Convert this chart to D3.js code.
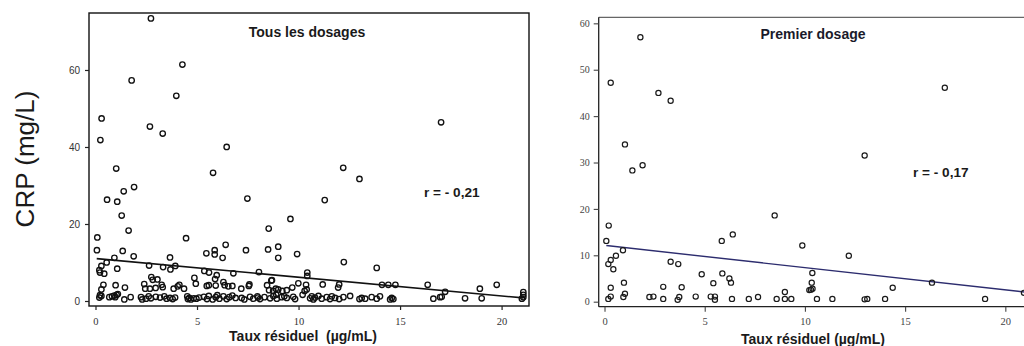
<!DOCTYPE html>
<html>
<head>
<meta charset="utf-8">
<script src="https://cdn.jsdelivr.net/npm/d3@7/dist/d3.min.js"></script>
<style>
  html, body { margin: 0; padding: 0; background: #fff; }
  svg { display: block; }
  text { white-space: pre; }
</style>
</head>
<body>
<svg id="chart" width="1024" height="346"></svg>
<script>
// Residual level (µg/mL) vs CRP (mg/L) — every measurement
const allDosages = [
  [2.73,73.4],[4.28,61.4],[1.78,57.3],[3.98,53.3],[0.3,47.4],[2.68,45.3],[3.31,43.5],[0.24,41.8],
  [6.46,40.0],[17.02,46.4],[12.2,34.6],[1.02,34.4],[5.79,33.3],[13.0,31.7],[1.9,29.6],[1.39,28.5],
  [7.48,26.6],[0.57,26.3],[1.07,25.8],[11.29,26.2],[1.29,22.2],[9.6,21.3],[8.53,18.8],[1.63,18.3],
  [0.09,16.5],[4.46,16.3],[9.0,14.1],[6.41,14.6],[8.5,13.4],[7.41,13.2],[0.07,13.2],[1.34,13.0],
  [5.87,13.2],[5.46,12.4],[5.87,12.1],[9.93,12.2],[1.88,11.6],[3.67,11.3],[6.26,11.2],[9.0,11.2],
  [0.93,11.2],[12.23,10.1],[0.55,10.0],[2.64,9.2],[0.29,9.1],[3.93,9.1],[3.33,8.8],[13.85,8.6],
  [1.07,8.4],[3.69,8.2],[0.19,8.0],[5.36,7.8],[8.05,7.5],[0.22,7.4],[5.59,7.4],[10.43,7.4],
  [6.79,7.2],[0.43,7.1],[5.97,6.7],[10.43,6.5],[2.75,6.2],[4.87,6.0],[3.05,5.6],[2.82,5.5],
  [5.89,5.7],[8.66,5.3],[8.69,5.4],[6.3,4.9],[4.94,4.5],[2.4,4.4],[0.39,4.2],[0.99,4.1],
  [3.26,4.2],[4.13,4.2],[5.58,4.1],[6.36,4.1],[7.58,4.3],[8.45,4.1],[9.99,4.6],[10.37,4.2],
  [11.19,4.3],[12.0,4.3],[14.11,4.2],[14.42,4.2],[14.77,4.2],[16.36,4.2],[19.76,4.2],[5.48,3.9],
  [5.92,4.0],[6.54,3.8],[6.74,3.9],[7.55,3.9],[4.05,3.8],[3.31,3.6],[1.45,3.5],[2.96,3.4],
  [9.69,3.5],[11.95,3.5],[0.29,3.0],[2.45,3.2],[2.68,3.2],[3.85,3.2],[4.36,3.2],[7.18,3.2],
  [8.88,3.2],[18.93,3.2],[17.22,2.4],[8.55,2.8],[8.75,2.6],[9.0,3.0],[9.2,2.6],[9.42,2.8],
  [10.3,2.6],[10.4,3.0],[21.07,2.3],[21.07,1.6],[21.07,1.0],[21.0,0.6],[17.05,1.1],
  [0.19,0.9],[0.29,1.3],[0.68,1.0],[0.81,1.2],[0.93,1.4],[1.04,1.6],[1.42,0.4],[1.73,1.0],
  [2.24,1.0],[2.49,0.6],[2.62,1.2],[2.73,0.7],[2.97,1.1],[3.18,0.9],[3.39,1.2],[3.67,0.8],
  [3.8,0.5],[3.92,0.9],[4.52,1.2],[4.62,0.8],[4.7,0.4],[4.84,0.7],[4.97,0.6],[5.34,1.1],
  [5.49,0.5],[5.58,1.3],[5.77,0.4],[5.92,1.0],[6.1,0.6],[6.3,1.2],[6.46,0.5],[6.59,1.0],
  [6.74,1.4],[7.2,0.8],[7.33,0.4],[7.61,1.1],[7.77,0.6],[7.97,1.2],[8.1,0.5],[8.32,1.0],
  [8.6,0.7],[8.76,1.3],[8.93,0.6],[9.17,1.0],[9.42,0.8],[9.74,1.1],[9.83,0.5],[10.57,0.7],
  [10.65,1.2],[10.73,0.4],[10.81,0.9],[10.98,1.3],[11.14,0.6],[11.39,1.0],[11.55,0.5],[11.64,1.2],
  [11.8,0.8],[12.21,1.0],[12.54,1.3],[13.0,0.5],[13.11,0.8],[13.28,0.6],[13.6,1.0],[13.85,0.6],
  [14.01,1.2],[14.51,0.4],[14.59,0.8],[14.67,0.5],[16.64,0.6],[16.97,1.0],[18.2,0.7],[19.02,0.7],
  [0.22,1.5],[0.97,1.0],[1.1,1.8],[2.3,0.4],[3.5,0.6],[4.55,0.5],[5.1,0.9],[6.0,1.5],
  [6.9,0.8],[8.0,0.9],[8.9,1.6],[9.3,1.2],[10.2,1.6],[12.0,0.5]
];

// Residual level vs CRP — first measurement only
const premierDosage = [
  [1.79,57.0],[0.31,47.2],[2.69,45.0],[3.3,43.3],[16.98,46.1],[1.02,33.9],[12.98,31.5],[1.9,29.4],
  [1.39,28.3],[8.49,18.6],[0.21,16.4],[6.4,14.5],[0.09,13.1],[5.85,13.1],[9.87,12.1],[0.92,11.1],
  [0.57,9.9],[12.19,9.9],[0.31,9.0],[3.3,8.6],[0.19,8.1],[3.68,8.1],[0.44,7.0],[10.37,6.2],
  [5.88,6.1],[4.85,5.9],[6.23,5.0],[0.97,4.1],[5.43,4.0],[6.31,4.1],[10.34,4.1],[16.34,4.1],
  [2.93,3.2],[0.31,3.0],[3.85,3.1],[14.38,3.0],[10.22,2.5],[10.3,2.6],[10.38,2.8],[9.0,2.1],
  [20.93,1.9],[1.02,1.7],[0.94,1.0],[0.19,0.6],[0.31,1.1],[2.24,1.0],[2.44,1.1],[2.93,0.6],
  [3.65,0.4],[3.73,1.0],[4.55,1.1],[5.3,1.1],[5.51,1.1],[5.51,0.4],[6.36,0.6],[7.2,0.6],
  [7.66,1.0],[8.59,0.6],[9.0,0.6],[9.32,0.6],[10.6,0.6],[11.37,0.6],[12.98,0.5],[13.11,0.6],
  [14.0,0.6],[18.99,0.6]
];

// Least-squares fit lines (end points)
const trendAll = [[0.06, 11.0], [21.07, 0.8]];
const trendPremier = [[0.09, 12.1], [20.93, 2.1]];

// Tick values and labels
const xTicks = [0, 5, 10, 15, 20];
const yTicksAll = [0, 20, 40, 60];
const yTicksPremier = [0, 10, 20, 30, 40, 50, 60];
const titles = ["Tous les dosages", "Premier dosage"];
const rLabels = ["r = - 0,21", "r = - 0,17"];
const xTitles = ["Taux résiduel  (µg/mL)", "Taux résiduel (µg/mL)"];
const yTitle = "CRP (mg/L)";

const svg = d3.select("#chart");
const SANS = "'Liberation Sans', Arial, sans-serif";
const SERIF = "'Liberation Serif', 'Times New Roman', serif";

// ---------- Left panel : all measurements ----------
const xL = d3.scaleLinear().domain([-0.32, 21.35]).range([89, 529]);
const yL = d3.scaleLinear().domain([-1.3, 74.8]).range([306, 13]);

const gL = svg.append("g");

// frame
gL.append("rect")
  .attr("x", xL.range()[0]).attr("y", yL.range()[1])
  .attr("width", xL.range()[1] - xL.range()[0])
  .attr("height", yL.range()[0] - yL.range()[1])
  .attr("fill", "none").attr("stroke", "#111").attr("stroke-width", 1.4);

const axL = gL.append("g")
  .attr("transform", `translate(${xL.range()[0]},0)`)
  .call(d3.axisLeft(yL).tickValues(yTicksAll).tickSize(4).tickSizeOuter(0).tickPadding(5));
axL.select(".domain").remove();
axL.selectAll("line").attr("stroke", "#222").attr("stroke-width", 1.2);
axL.selectAll("text").attr("font-family", SANS).attr("font-size", 10).attr("fill", "#333");

const axLx = gL.append("g")
  .attr("transform", `translate(0,${yL.range()[0]})`)
  .call(d3.axisBottom(xL).tickValues(xTicks).tickSize(4).tickSizeOuter(0));
axLx.select(".domain").remove();
axLx.selectAll("line").attr("stroke", "#222").attr("stroke-width", 1.2);
axLx.selectAll("text").attr("font-family", SERIF).attr("font-size", 10.5)
  .attr("fill", "#333").attr("dy", null).attr("y", 19);

gL.append("line")
  .attr("x1", xL(trendAll[0][0])).attr("y1", yL(trendAll[0][1]))
  .attr("x2", xL(trendAll[1][0])).attr("y2", yL(trendAll[1][1]))
  .attr("stroke", "#111").attr("stroke-width", 1.6);

gL.append("g").selectAll("circle").data(allDosages).join("circle")
  .attr("cx", d => xL(d[0])).attr("cy", d => yL(d[1])).attr("r", 2.7)
  .attr("fill", "none").attr("stroke", "#111").attr("stroke-width", 1.35);

gL.append("text").attr("x", 307).attr("y", 36.5).attr("text-anchor", "middle")
  .attr("font-family", SANS).attr("font-weight", "bold").attr("font-size", 14)
  .attr("fill", "#1a1a1a").text(titles[0]);
gL.append("text").attr("x", 424).attr("y", 197).attr("font-family", SANS)
  .attr("font-weight", "bold").attr("font-size", 13.6).attr("fill", "#1a1a1a").text(rLabels[0]);
gL.append("text").attr("x", 303).attr("y", 341).attr("text-anchor", "middle")
  .attr("font-family", SANS).attr("font-weight", "bold").attr("font-size", 14)
  .attr("fill", "#1a1a1a").text(xTitles[0]);

// y title
svg.append("text")
  .attr("transform", "translate(33.5,159) rotate(-90)")
  .attr("text-anchor", "middle")
  .attr("font-family", SANS).attr("font-size", 26).attr("fill", "#1a1a1a")
  .text(yTitle);

// ---------- Right panel : first measurement ----------
const xR = d3.scaleLinear().domain([-0.29, 21.73]).range([598.7, 1040]);
const yR = d3.scaleLinear().domain([-1.08, 61.3]).range([306.7, 17.3]);

const gR = svg.append("g");

gR.append("line")
  .attr("x1", xR.range()[0]).attr("x2", 1024)
  .attr("y1", yR.range()[1]).attr("y2", yR.range()[1])
  .attr("stroke", "#666").attr("stroke-width", 1.3);
gR.append("line")
  .attr("x1", xR.range()[0]).attr("x2", xR.range()[0])
  .attr("y1", yR.range()[1]).attr("y2", yR.range()[0])
  .attr("stroke", "#222").attr("stroke-width", 1.3);
gR.append("line")
  .attr("x1", xR.range()[0]).attr("x2", 1024)
  .attr("y1", yR.range()[0]).attr("y2", yR.range()[0])
  .attr("stroke", "#222").attr("stroke-width", 1.3);

const axR = gR.append("g")
  .attr("transform", `translate(${xR.range()[0]},0)`)
  .call(d3.axisLeft(yR).tickValues(yTicksPremier).tickSize(5).tickSizeOuter(0).tickPadding(4));
axR.select(".domain").remove();
axR.selectAll("line").attr("stroke", "#444").attr("stroke-width", 1.1);
axR.selectAll("text").attr("font-family", SERIF).attr("font-size", 10).attr("fill", "#444");

const axRx = gR.append("g")
  .attr("transform", `translate(0,${yR.range()[0]})`)
  .call(d3.axisBottom(xR).tickValues(xTicks).tickSize(5).tickSizeOuter(0));
axRx.select(".domain").remove();
axRx.selectAll("line").attr("stroke", "#444").attr("stroke-width", 1.1);
axRx.selectAll("text").attr("font-family", SERIF).attr("font-size", 10.5)
  .attr("fill", "#444").attr("dy", null).attr("y", 18);

gR.append("line")
  .attr("x1", xR(trendPremier[0][0])).attr("y1", yR(trendPremier[0][1]))
  .attr("x2", xR(trendPremier[1][0])).attr("y2", yR(trendPremier[1][1]))
  .attr("stroke", "#2c2c6e").attr("stroke-width", 1.4);

gR.append("g").selectAll("circle").data(premierDosage).join("circle")
  .attr("cx", d => xR(d[0])).attr("cy", d => yR(d[1])).attr("r", 2.6)
  .attr("fill", "none").attr("stroke", "#1a1a1a").attr("stroke-width", 1.2);

gR.append("text").attr("x", 813).attr("y", 39).attr("text-anchor", "middle")
  .attr("font-family", SANS).attr("font-weight", "bold").attr("font-size", 14)
  .attr("fill", "#1a1a2a").text(titles[1]);
gR.append("text").attr("x", 913).attr("y", 177).attr("font-family", SANS)
  .attr("font-weight", "bold").attr("font-size", 13.6).attr("fill", "#1a1a1a").text(rLabels[1]);
gR.append("text").attr("x", 813).attr("y", 344).attr("text-anchor", "middle")
  .attr("font-family", SANS).attr("font-weight", "bold").attr("font-size", 14)
  .attr("fill", "#1a1a1a").text(xTitles[1]);
</script>
</body>
</html>
